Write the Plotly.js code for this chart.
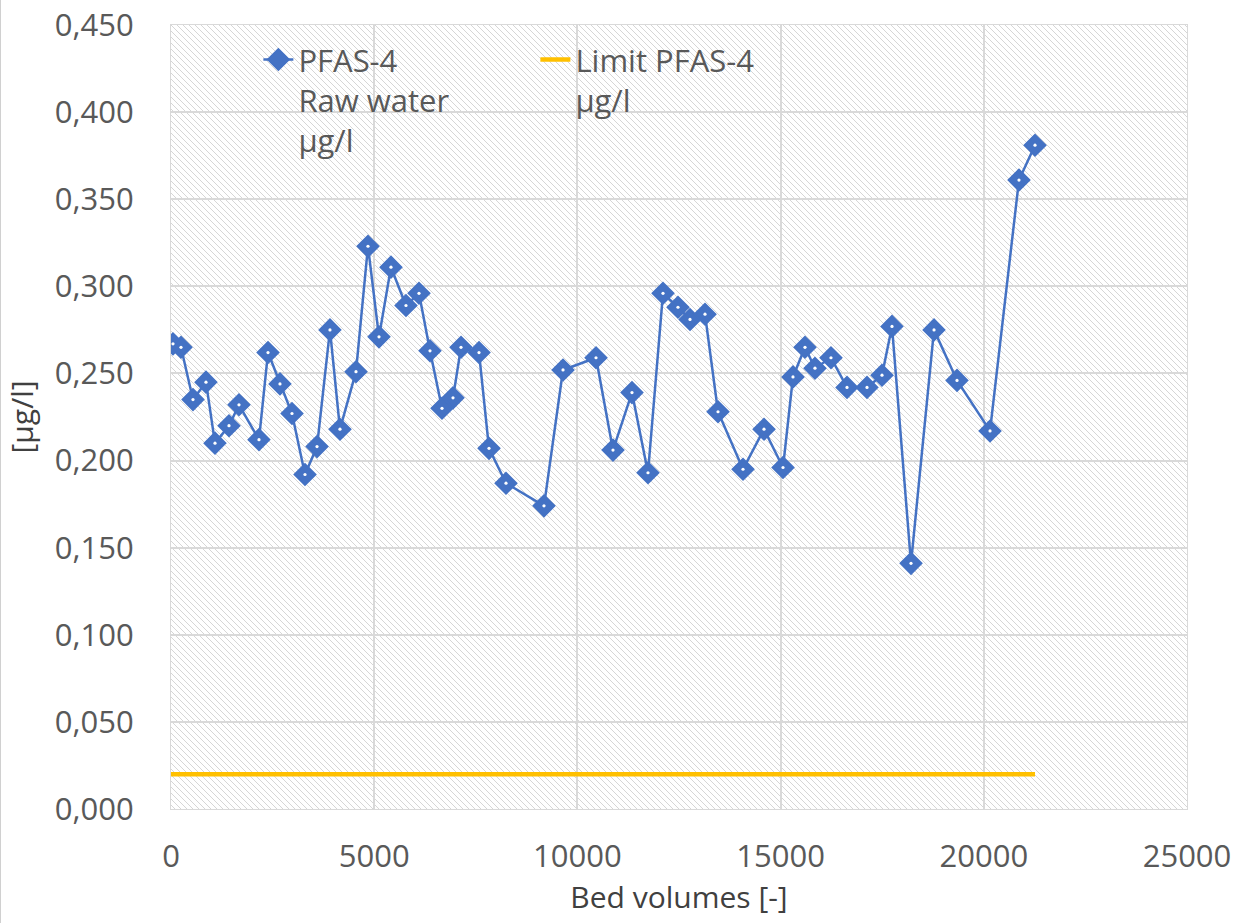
<!DOCTYPE html>
<html>
<head>
<meta charset="utf-8">
<script src="https://cdn.plot.ly/plotly-3.0.1.min.js"></script>
<style>
html,body{margin:0;padding:0;background:#fff;}
#chart{width:1254px;height:923px;box-sizing:border-box;border-left:1px solid #d0d0d0;}
</style>
</head>
<body>
<div id="chart"></div>
<script>
// Bed volumes [-]
var bedVolumes = [49, 246, 541, 861, 1083, 1427, 1673, 2165, 2387, 2682, 2977, 3297, 3593, 3912, 4158, 4552, 4847, 5118, 5413, 5782, 6102, 6373, 6668, 6939, 7136, 7579, 7825, 8243, 9178, 9646, 10458, 10876, 11343, 11737, 12106, 12475, 12771, 13140, 13460, 14075, 14592, 15059, 15305, 15600, 15846, 16240, 16634, 17126, 17495, 17741, 18209, 18775, 19341, 20153, 20866, 21260];
// PFAS-4 Raw water µg/l
var pfas4Raw = [0.267, 0.265, 0.235, 0.245, 0.210, 0.220, 0.232, 0.212, 0.262, 0.244, 0.227, 0.192, 0.208, 0.275, 0.218, 0.251, 0.323, 0.271, 0.311, 0.289, 0.296, 0.263, 0.230, 0.236, 0.265, 0.262, 0.207, 0.187, 0.174, 0.252, 0.259, 0.206, 0.239, 0.193, 0.296, 0.288, 0.281, 0.284, 0.228, 0.195, 0.218, 0.196, 0.248, 0.265, 0.253, 0.259, 0.242, 0.242, 0.249, 0.277, 0.141, 0.275, 0.246, 0.217, 0.361, 0.381];
// Limit PFAS-4 µg/l
var limitX = [0, 21260];
var limitY = [0.02, 0.02];

var yTicks = [0, 0.05, 0.1, 0.15, 0.2, 0.25, 0.3, 0.35, 0.4, 0.45];
var xTicks = [0, 5000, 10000, 15000, 20000, 25000];

var BLUE = '#4472C4';
var FONT = 'Open Sans, Noto Sans, sans-serif';
var TXT = '#595959';

var hatch = "<svg xmlns='http://www.w3.org/2000/svg' width='1016' height='784'>" +
  "<defs><pattern id='p' width='6' height='6' patternUnits='userSpaceOnUse'>" +
  "<path d='M0,0 L6,6 M-1,5 L1,7 M5,-1 L7,1' stroke='#d6d6d6' stroke-width='1'/>" +
  "</pattern></defs><rect width='100%' height='100%' fill='url(#p)'/></svg>";
var hatchURI = 'data:image/svg+xml;charset=utf-8,' + encodeURIComponent(hatch);

var traces = [
  {
    x: bedVolumes, y: pfas4Raw, type: 'scatter', mode: 'lines+markers',
    name: 'PFAS-4<br>Raw water<br>µg/l',
    line: {color: BLUE, width: 2.5},
    marker: {symbol: 'diamond', size: 16, color: BLUE, line: {color: BLUE, width: 2}}
  },
  {
    x: bedVolumes, y: pfas4Raw, type: 'scatter', mode: 'markers',
    showlegend: false, hoverinfo: 'skip',
    marker: {symbol: 'circle', size: 3.2, color: '#ffffff', line: {width: 0}}
  },
  {
    x: limitX, y: limitY, type: 'scatter', mode: 'lines',
    name: 'Limit PFAS-4<br>µg/l',
    line: {color: '#FFC000', width: 4.5}
  }
];

var layout = {
  width: 1254, height: 923,
  margin: {l: 170, r: 68, t: 25, b: 114},
  paper_bgcolor: '#ffffff',
  plot_bgcolor: '#ffffff',
  separators: ', ',
  font: {family: FONT, size: 30, color: TXT},
  showlegend: true,
  legend: {
    orientation: 'h', x: 0.086, y: 0.99, xanchor: 'left', yanchor: 'top',
    bgcolor: 'rgba(0,0,0,0)', font: {family: FONT, size: 31, color: TXT},
    entrywidth: 232, valign: 'top', tracegroupgap: 0
  },
  xaxis: {
    range: [0, 25000], tickvals: xTicks, tickformat: 'd',
    showgrid: true, gridcolor: '#d9d9d9', gridwidth: 2,
    zeroline: false, showline: true, mirror: true, linecolor: '#d9d9d9', linewidth: 1,
    ticks: '', ticklabelstandoff: 20,
    tickfont: {family: FONT, size: 31, color: TXT},
    title: {text: 'Bed volumes [-]', font: {family: FONT, size: 30, color: '#404040'}, standoff: 8}
  },
  yaxis: {
    range: [0, 0.45], tickvals: yTicks, tickformat: '.3f',
    showgrid: true, gridcolor: '#d9d9d9', gridwidth: 2,
    zeroline: false, showline: true, mirror: true, linecolor: '#d9d9d9', linewidth: 1,
    ticks: '', ticklabelstandoff: 30,
    tickfont: {family: FONT, size: 31, color: TXT},
    title: {text: '[µg/l]', font: {family: FONT, size: 30, color: '#404040'}, standoff: 14}
  },
  images: [{
    source: hatchURI, xref: 'paper', yref: 'paper', x: 0, y: 1,
    sizex: 1, sizey: 1, sizing: 'stretch', xanchor: 'left', yanchor: 'top', layer: 'below'
  }]
};

Plotly.newPlot('chart', traces, layout, {displayModeBar: false, staticPlot: true});
</script>
</body>
</html>
